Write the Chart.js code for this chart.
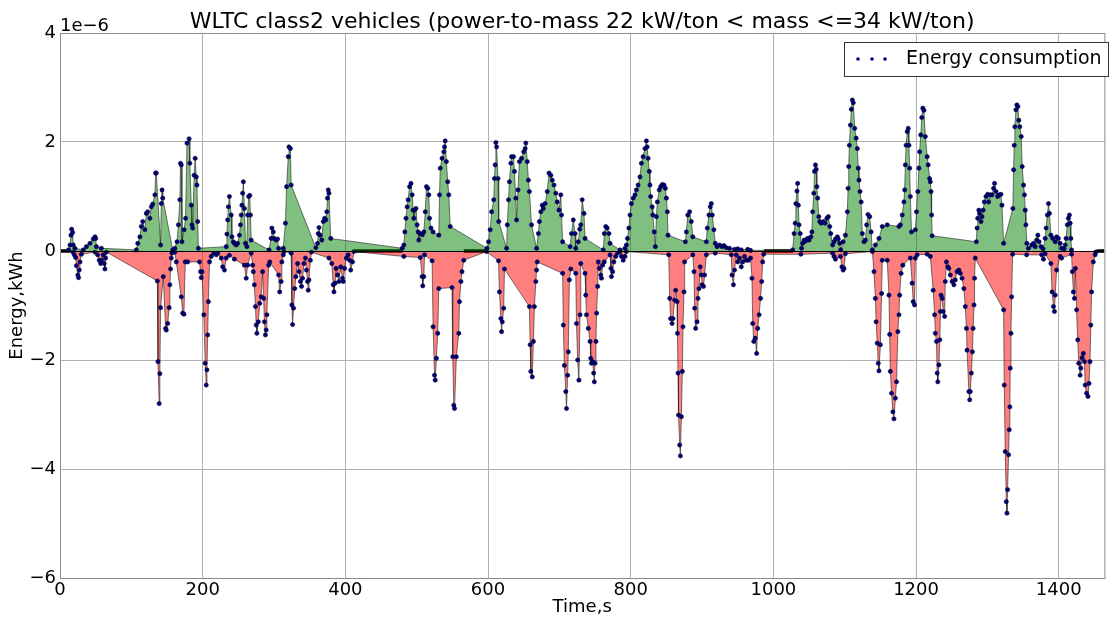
<!DOCTYPE html>
<html>
<head>
<meta charset="utf-8">
<title>WLTC class2 energy</title>
<script src="https://cdn.jsdelivr.net/npm/chart.js@4.4.1/dist/chart.umd.min.js"></script>
<style>
  html, body { margin: 0; padding: 0; background: #fff; }
  #energy-chart { display: block; }
</style>
</head>
<body>
<canvas id="energy-chart" width="1109" height="619"></canvas>
<script>
// values in units of 1e-6 kWh
const posTimes = [12, 14, 15.4, 16.3, 17.7, 18.6, 21, 32.6, 37, 42, 46.6, 49, 50, 51, 58, 107, 109, 112, 114, 116, 119, 121, 123, 126, 128, 130, 133, 134, 135, 141, 142, 143, 144, 158, 161, 164, 166, 168, 169, 170, 171, 174, 176, 178, 181, 182, 184, 185, 186, 188, 189.5, 191, 192, 193, 194, 233, 234, 235, 236, 237.5, 240, 241, 243, 244.5, 247, 249, 251.5, 253, 254, 255, 256, 257, 258.5, 260, 262, 263, 264.5, 266, 267, 268, 293, 296, 297, 299, 300, 303, 305, 306.4, 313, 316, 317.6, 320, 321, 323, 324, 358.6, 361, 362, 363, 364.6, 367, 369, 371, 372.6, 374, 375, 376, 377, 379.5, 479.7, 482, 483.4, 485, 486.6, 488, 490, 492, 493.6, 495, 496, 497, 499, 500.6, 502, 503, 505, 508, 510, 512, 513.7, 515.5, 517, 518, 520, 523, 531, 532, 533, 535.6, 538, 539, 540, 541.6, 543.5, 545, 547, 598.4, 600.7, 603, 605, 608, 609, 610, 611, 612, 614, 615, 626, 627, 628.7, 630, 632, 633, 635.7, 637, 639, 640, 642, 644, 647, 650, 652, 653, 655, 656.6, 658, 661, 668, 670.6, 672, 674, 676, 677.6, 680, 683, 685.5, 688, 690, 692.5, 695, 697, 699.5, 702, 703, 704.6, 715, 717, 719.5, 722, 723, 726.5, 728.5, 730, 732, 734.5, 736, 761.5, 763, 765, 767, 769.5, 771, 785, 792, 794, 795.5, 797.4, 799, 801, 803.5, 806, 808, 810.4, 813, 815, 817.4, 820, 822, 823, 824.4, 826, 827, 828, 830, 831, 833, 834.6, 836, 837.4, 840, 842, 844.4, 846.7, 848.6, 850, 851.4, 852.3, 876.6, 878, 880, 882.6, 885, 887, 906, 907.3, 909.6, 911.5, 913, 914.3, 916.6, 918.5, 921, 924.5, 928, 930.6, 934, 938.5, 945.5, 950, 955, 964, 968, 1027, 1029, 1030.6, 1031.5, 1033, 1034, 1035, 1036, 1037.6, 1039.5, 1041, 1043, 1045, 1047.8, 1050, 1052.5, 1054, 1055, 1056.7, 1057.6, 1059, 1060, 1061, 1062, 1063.7, 1065, 1067, 1070, 1072.5, 1075, 1077, 1079, 1080.4, 1083, 1085, 1087, 1089.7, 1091, 1093, 1094.4, 1097.7, 1101, 1103.7, 1104.7, 1105.6, 1106.5, 1108, 1109.3, 1110.7, 1112, 1114, 1116, 1117.7, 1119, 1120, 1121.4, 1123, 1124.7, 1127, 1129, 1130.7, 1132.6, 1135, 1137, 1138.7, 1143, 1148, 1152.6, 1159.6, 1176, 1178, 1180.6, 1183, 1184, 1185, 1186, 1187.6, 1189, 1190, 1191, 1192, 1193.6, 1199, 1200.6, 1202.5, 1204, 1205, 1206.6, 1208, 1209.5, 1211, 1213, 1215.6, 1217, 1219, 1220, 1221, 1221.8, 1222.6, 1284.5, 1285.5, 1286.4, 1288, 1289, 1291, 1292.4, 1294, 1295.7, 1298, 1300.4, 1301.7, 1304, 1306.4, 1308.7, 1310, 1312, 1314.3, 1316.6, 1319, 1320.4, 1322.7, 1335.7, 1336.7, 1337.6, 1338.5, 1340, 1341.3, 1342.7, 1344, 1345.5, 1347.4, 1348.8, 1350.7, 1352, 1353, 1354, 1355.3, 1357.6, 1362, 1364.6, 1367, 1369, 1370.7, 1372.5, 1375.3, 1378, 1381, 1382.3, 1384, 1385.6, 1387, 1389, 1391.6, 1395, 1397, 1399.5, 1402, 1404, 1407.5, 1409, 1410.3, 1412, 1413.5, 1415, 1416, 1417, 1418];
const posValues = [0.02, 0.11, 0.29, 0.40, 0.34, 0.11, 0.05, 0.02, 0.08, 0.14, 0.22, 0.26, 0.23, 0.08, 0.05, 0.02, 0.14, 0.26, 0.45, 0.54, 0.39, 0.69, 0.72, 0.60, 0.81, 0.86, 1.03, 1.43, 1.43, 0.11, 0.87, 1.12, 0.97, 0.02, 0.05, 0.17, 0.48, 0.94, 1.61, 1.58, 0.17, 0.39, 0.60, 1.98, 2.06, 1.61, 0.84, 0.48, 0.42, 1.39, 1.70, 1.36, 1.21, 0.54, 0.05, 0.08, 0.31, 0.57, 0.81, 1.00, 0.66, 0.26, 0.17, 0.14, 0.11, 0.14, 0.29, 0.48, 0.66, 0.84, 1.06, 1.27, 0.78, 0.14, 0.08, 0.66, 1.00, 1.02, 0.66, 0.20, 0.02, 0.23, 0.42, 0.35, 0.23, 0.20, 0.22, 0.05, 0.05, 0.51, 1.18, 1.73, 1.91, 1.88, 1.21, 0.06, 0.14, 0.32, 0.43, 0.29, 0.20, 0.54, 0.60, 0.57, 0.72, 0.97, 1.12, 1.06, 0.23, 0.05, 0.11, 0.35, 0.60, 0.81, 0.94, 1.18, 1.24, 1.03, 0.75, 0.60, 0.75, 0.78, 0.48, 0.35, 0.20, 0.32, 0.30, 0.35, 0.72, 1.18, 1.15, 1.03, 0.60, 0.42, 0.35, 0.29, 1.03, 1.52, 1.70, 1.82, 1.91, 2.02, 1.64, 1.27, 1.03, 0.45, 0.05, 0.17, 0.39, 0.72, 0.94, 1.33, 1.58, 1.99, 1.91, 1.33, 0.54, 0.05, 0.48, 0.94, 1.27, 1.61, 1.73, 1.73, 1.46, 0.97, 0.57, 1.12, 1.64, 1.70, 1.82, 1.88, 1.98, 1.64, 1.30, 1.09, 0.48, 0.05, 0.32, 0.54, 0.72, 0.84, 0.78, 0.87, 1.09, 1.43, 1.39, 1.30, 1.21, 1.06, 0.90, 0.75, 1.03, 0.66, 0.17, 0.08, 0.32, 0.57, 0.32, 0.05, 0.17, 0.40, 0.48, 0.94, 0.69, 0.23, 0.02, 0.32, 0.45, 0.42, 0.32, 0.14, 0.02, 0.05, 0.11, 0.23, 0.42, 0.66, 0.87, 0.97, 1.03, 1.12, 1.21, 1.36, 1.61, 1.73, 1.88, 2.02, 1.91, 1.70, 1.46, 1.21, 1.00, 0.81, 0.66, 0.35, 0.08, 0.63, 0.90, 1.12, 1.18, 1.22, 1.21, 1.15, 0.97, 0.72, 0.29, 0.17, 0.35, 0.66, 0.72, 0.54, 0.26, 0.17, 0.42, 0.66, 0.81, 0.87, 0.66, 0.39, 0.14, 0.08, 0.11, 0.08, 0.10, 0.06, 0.05, 0.03, 0.04, 0.02, 0.03, 0.01, 0.02, 0.32, 0.51, 0.87, 1.10, 1.24, 0.84, 0.48, 0.32, 0.05, 0.14, 0.20, 0.18, 0.23, 0.20, 0.26, 0.35, 0.72, 1.06, 1.46, 1.58, 1.50, 1.18, 0.97, 0.63, 0.54, 0.51, 0.54, 0.51, 0.60, 0.63, 0.45, 0.32, 0.11, 0.17, 0.22, 0.26, 0.22, 0.14, 0.02, 0.17, 0.29, 0.72, 1.15, 1.55, 1.94, 2.31, 2.60, 2.77, 2.72, 2.25, 2.07, 1.88, 1.52, 1.30, 1.09, 0.90, 0.32, 0.17, 0.20, 0.48, 0.67, 0.63, 0.35, 0.02, 0.11, 0.23, 0.45, 0.48, 0.45, 0.48, 0.66, 0.90, 1.12, 1.58, 1.94, 2.19, 2.25, 1.94, 1.52, 1.00, 0.35, 0.39, 0.72, 1.09, 1.52, 1.82, 2.13, 2.45, 2.62, 2.58, 2.10, 1.73, 1.58, 1.33, 1.27, 1.09, 0.66, 0.28, 0.17, 0.42, 0.60, 0.75, 0.69, 0.54, 0.63, 0.75, 0.90, 1.00, 1.04, 0.90, 1.03, 1.03, 1.15, 1.24, 1.09, 1.00, 1.03, 1.04, 0.84, 0.14, 0.78, 1.49, 1.94, 2.28, 2.59, 2.68, 2.65, 2.40, 2.28, 2.10, 1.55, 1.21, 1.03, 0.75, 0.48, 0.14, 0.05, 0.11, 0.14, 0.08, 0.20, 0.29, 0.17, 0.08, 0.04, 0.23, 0.42, 0.66, 0.87, 0.69, 0.29, 0.23, 0.17, 0.26, 0.23, 0.14, 0.05, 0.04, 0.11, 0.23, 0.48, 0.60, 0.66, 0.51, 0.23, 0.02];

const negTimes = [18, 20, 22, 23, 25, 26, 27, 28, 30, 49, 52.6, 55, 57, 58, 60.5, 62, 63, 64, 65, 136.5, 137.3, 139, 140, 141, 144.8, 148, 149, 151, 153, 154, 155, 156, 157, 161, 163, 170, 172, 173.7, 175.6, 179, 195.6, 197, 198, 199, 201.6, 203.5, 205, 206, 207, 208, 209.6, 212, 215.6, 219, 221, 226, 228, 230.5, 233, 237.5, 244.5, 258.5, 261, 263, 268, 270, 271, 272.4, 274, 275, 276, 278, 280, 282, 284, 285.5, 286.5, 288, 289, 290, 292.5, 294, 306.4, 308, 310, 311, 313, 314, 324, 325, 326, 327.4, 329, 330.6, 333, 335, 337, 338.6, 340, 342, 344, 345.5, 347, 348, 349, 351, 352.5, 377, 381, 383, 384, 385.6, 387, 389, 391, 393.5, 396, 397, 399, 401.4, 404, 406, 407.5, 410, 412, 482, 505, 507.6, 508.5, 510, 511, 521.6, 523, 525, 526, 527.6, 529.5, 531, 549.5, 550.5, 552, 553, 555.6, 559, 560, 562, 563.5, 566, 598, 614.7, 616, 618, 619, 620, 622, 623, 658, 659, 660, 662, 663.6, 665, 667, 668, 669, 704.6, 705.5, 707, 709, 710, 711.6, 712.5, 714, 716, 723, 724, 725.6, 727.4, 729, 730, 736, 737, 738, 740.6, 743, 744, 745, 746.6, 748, 749, 750, 751.3, 752.2, 753.6, 754.5, 756, 758, 759, 760.6, 763, 771, 772.3, 773, 774.6, 776.4, 779, 781.6, 785, 787, 789.5, 792, 794, 853.3, 854.7, 856, 858, 859.3, 861.6, 863, 865, 865.5, 866.3, 867, 868.6, 869.6, 871, 872.4, 873.3, 874.7, 875.6, 887, 888.7, 889.6, 891, 893, 894.3, 895.7, 897.5, 899, 900, 902, 903.6, 906, 918.5, 941, 942, 944, 945.5, 948, 950, 952.5, 955, 957, 959.5, 962, 965, 968, 970, 971, 972.5, 974.5, 976.5, 978, 980, 982, 983.6, 985, 986.4, 1038.5, 1083, 1085, 1087, 1094, 1096, 1097.7, 1099, 1101, 1138.7, 1141, 1143, 1144, 1145.6, 1147, 1148, 1150, 1151.7, 1152.6, 1159.6, 1162, 1163, 1164, 1165.6, 1167.5, 1169, 1171, 1172.6, 1174.5, 1176, 1177, 1179, 1181.5, 1192, 1194.5, 1196, 1197.8, 1199, 1201.5, 1215.6, 1220, 1224, 1226, 1227, 1228.6, 1229.6, 1230.5, 1232, 1233.3, 1234.2, 1235, 1236.6, 1238, 1240, 1241, 1242.6, 1244.5, 1246, 1248, 1250.5, 1253, 1255, 1257.5, 1260, 1262, 1264.5, 1267, 1269, 1270.6, 1271.5, 1274, 1275.2, 1276, 1277.5, 1279, 1280, 1281.3, 1282, 1283, 1322.7, 1323.6, 1325, 1326.5, 1327.4, 1328.3, 1329.7, 1330.6, 1331.5, 1332, 1333, 1334, 1335.3, 1355, 1376, 1378.6, 1381, 1389, 1390.7, 1392.6, 1394, 1395, 1397, 1402, 1404, 1418, 1419, 1420.5, 1422, 1423.3, 1425, 1426.6, 1428, 1430, 1431, 1432.6, 1434.5, 1436, 1437, 1439, 1441, 1442.4, 1443.8, 1445, 1446, 1448.5, 1451, 1452];
const negValues = [-0.02, -0.07, -0.12, -0.27, -0.44, -0.49, -0.35, -0.20, -0.06, -0.02, -0.07, -0.17, -0.23, -0.17, -0.07, -0.23, -0.33, -0.13, -0.02, -0.55, -2.03, -2.80, -2.25, -1.04, -0.47, -1.42, -1.45, -1.33, -1.04, -0.62, -0.33, -0.13, -0.04, -0.02, -0.20, -0.84, -1.14, -1.16, -0.20, -0.20, -0.20, -0.38, -0.49, -0.38, -1.17, -2.06, -2.46, -2.18, -1.54, -0.93, -0.20, -0.10, -0.04, -0.07, -0.04, -0.13, -0.29, -0.35, -0.13, -0.08, -0.15, -0.26, -0.50, -0.26, -0.04, -0.26, -0.38, -0.62, -1.02, -1.36, -1.51, -1.30, -0.96, -0.84, -0.38, -0.87, -1.30, -1.54, -1.45, -1.17, -0.26, -0.20, -0.44, -0.75, -0.56, -0.20, -0.07, -0.01, -0.04, -0.99, -1.35, -1.05, -0.69, -0.47, -0.23, -0.38, -0.56, -0.65, -0.50, -0.23, -0.13, -0.35, -0.56, -0.72, -0.53, -0.17, -0.02, -0.13, -0.23, -0.62, -0.75, -0.59, -0.32, -0.44, -0.56, -0.29, -0.50, -0.56, -0.32, -0.13, -0.07, -0.17, -0.35, -0.20, -0.01, -0.10, -0.12, -0.47, -0.64, -0.47, -0.07, -0.18, -1.39, -2.28, -2.37, -1.97, -1.51, -0.69, -0.67, -1.94, -2.83, -2.89, -1.94, -1.51, -0.93, -0.56, -0.38, -0.17, -0.01, -0.18, -0.75, -1.24, -1.48, -1.30, -1.05, -0.33, -1.02, -1.72, -2.21, -2.31, -1.66, -1.02, -0.56, -0.35, -0.20, -0.41, -1.36, -2.10, -2.58, -2.89, -2.28, -1.85, -0.53, -0.33, -0.41, -1.33, -2.00, -2.37, -1.17, -0.23, -0.41, -0.81, -1.17, -1.42, -1.66, -1.97, -2.06, -2.03, -2.24, -2.40, -2.06, -1.66, -1.14, -0.65, -0.20, -0.32, -0.44, -0.50, -0.26, -0.20, -0.07, -0.32, -0.47, -0.38, -0.20, -0.10, -0.04, -0.01, -0.10, -0.17, -0.10, -0.01, -0.07, -0.87, -1.24, -1.33, -1.24, -0.90, -0.72, -0.93, -1.51, -2.24, -3.01, -3.56, -3.76, -3.04, -2.21, -1.39, -0.75, -0.20, -0.07, -0.38, -1.05, -1.42, -1.30, -0.87, -0.69, -0.29, -0.44, -0.62, -0.65, -0.44, -0.07, -0.04, -0.07, -0.44, -0.62, -0.35, -0.07, -0.20, -0.13, -0.29, -0.20, -0.10, -0.17, -0.17, -0.13, -0.50, -1.33, -1.66, -1.60, -1.88, -1.42, -1.17, -0.87, -0.56, -0.20, -0.06, -0.06, -0.04, -0.10, -0.15, -0.10, -0.29, -0.35, -0.32, -0.05, -0.01, -0.38, -0.87, -1.30, -1.69, -2.06, -2.20, -1.72, -0.78, -0.17, -0.17, -0.81, -1.53, -2.21, -2.61, -2.95, -3.08, -2.70, -2.40, -1.48, -1.17, -0.81, -0.41, -0.26, -0.13, -0.59, -0.93, -0.99, -0.13, -0.07, -0.06, -0.10, -0.72, -1.17, -1.51, -1.66, -2.24, -2.40, -2.09, -1.63, -1.11, -0.81, -0.87, -1.11, -1.20, -0.56, -0.20, -0.29, -0.32, -0.44, -0.56, -0.62, -0.53, -0.38, -0.35, -0.41, -0.50, -0.69, -1.02, -1.42, -1.82, -2.58, -2.73, -2.58, -2.24, -1.85, -1.42, -0.99, -0.50, -0.13, -1.08, -2.46, -3.68, -4.60, -4.81, -4.38, -3.74, -3.28, -2.86, -2.15, -1.51, -0.84, -0.06, -0.07, -0.07, -0.15, -0.05, -0.23, -0.75, -1.02, -1.11, -0.81, -0.35, -0.10, -0.13, -0.06, -0.38, -0.75, -0.87, -0.32, -1.08, -1.63, -2.06, -2.28, -2.15, -1.96, -1.88, -2.03, -2.46, -2.61, -2.67, -2.43, -2.03, -1.36, -0.75, -0.20, -0.07, -0.02];

// stretches where the consumption sits at zero (dense dots on the axis)
const zeroStart = [0, 412, 566, 987, 1453];
const zeroEnd = [14, 480, 598, 1027, 1464];

const xTickStep = 200;
const yTickStep = 2;

const FONT = "'DejaVu Sans', 'Liberation Sans', sans-serif";

function toPoints(times, values) {
  return times.map((t, i) => ({ x: t, y: values[i] }));
}

function zeroRuns() {
  const pts = [];
  zeroStart.forEach((s, i) => {
    pts.push({ x: s, y: 0 }, { x: zeroEnd[i], y: 0 }, { x: zeroEnd[i] + 0.1, y: null });
  });
  return pts;
}

// frame, zero line, offset label and the legend box
const decorations = {
  id: 'decorations',
  afterDatasetsDraw(chart) {
    const { ctx, chartArea: a, scales } = chart;
    const y0 = Math.round(scales.y.getPixelForValue(0)) + 0.5;
    ctx.save();
    ctx.strokeStyle = '#000';
    ctx.lineWidth = 1;
    ctx.beginPath();
    ctx.moveTo(a.left, y0);
    ctx.lineTo(a.right, y0);
    ctx.stroke();
    ctx.restore();
  },
  afterDraw(chart) {
    const { ctx, chartArea: a } = chart;
    ctx.save();
    ctx.strokeStyle = '#8c8c8c';
    ctx.lineWidth = 1;
    ctx.strokeRect(a.left + 0.5, a.top + 0.5, a.right - a.left, a.bottom - a.top);

    ctx.fillStyle = '#000';
    ctx.font = '18px ' + FONT;
    ctx.textAlign = 'left';
    ctx.textBaseline = 'alphabetic';
    ctx.fillText('1e\u22126', a.left, a.top - 2);

    // legend
    const lx = 844, ly = 42, lw = 264, lh = 34;
    ctx.fillStyle = '#fff';
    ctx.fillRect(lx, ly, lw, lh);
    ctx.strokeStyle = '#333';
    ctx.strokeRect(lx + 0.5, ly + 0.5, lw, lh);
    ctx.fillStyle = '#00007f';
    [858, 872, 885].forEach(cx => {
      ctx.beginPath();
      ctx.arc(cx, ly + 17, 1.8, 0, Math.PI * 2);
      ctx.fill();
    });
    ctx.fillStyle = '#000';
    ctx.font = '19px ' + FONT;
    ctx.textBaseline = 'middle';
    ctx.fillText('Energy consumption', 906, ly + 17);
    ctx.restore();
  }
};

const pointStyle = {
  pointRadius: 2.1,
  pointBackgroundColor: '#000080',
  pointBorderColor: '#00002a',
  pointBorderWidth: 0.6,
  borderWidth: 0.8,
  tension: 0
};

new Chart(document.getElementById('energy-chart'), {
  type: 'line',
  data: {
    datasets: [
      {
        label: 'Energy consumption',
        data: toPoints(posTimes, posValues),
        borderColor: 'rgba(30,30,30,0.75)',
        backgroundColor: 'rgba(0,128,0,0.5)',
        fill: 'origin',
        ...pointStyle
      },
      {
        label: 'Energy recovery',
        data: toPoints(negTimes, negValues),
        borderColor: 'rgba(30,30,30,0.75)',
        backgroundColor: 'rgba(255,0,0,0.5)',
        fill: 'origin',
        ...pointStyle
      },
      {
        label: 'zero',
        data: zeroRuns(),
        borderColor: '#000',
        borderWidth: 3.5,
        pointRadius: 0,
        fill: false,
        spanGaps: false
      }
    ]
  },
  options: {
    responsive: false,
    animation: false,
    devicePixelRatio: 1,
    layout: { padding: { top: 0, right: 1, left: 0, bottom: 0 } },
    plugins: {
      legend: { display: false },
      tooltip: { enabled: false },
      title: {
        display: true,
        fullSize: false,
        text: 'WLTC class2 vehicles (power-to-mass 22 kW/ton < mass <=34 kW/ton)',
        color: '#000',
        font: { family: FONT, size: 22, weight: 'normal', lineHeight: 1.0 },
        padding: { top: 11, bottom: 0 }
      }
    },
    scales: {
      x: {
        type: 'linear',
        min: 0,
        max: 1464,
        afterFit: s => { s.height = 41; },
        ticks: {
          stepSize: xTickStep,
          includeBounds: false,
          color: '#000',
          padding: 2,
          maxRotation: 0,
          font: { family: FONT, size: 18 },
          callback: v => String(v)
        },
        grid: { color: '#b0b0b0', lineWidth: 1, drawTicks: false },
        border: { display: false },
        title: {
          display: true,
          text: 'Time,s',
          color: '#000',
          font: { family: FONT, size: 18 },
          padding: { top: 0, bottom: 1 }
        }
      },
      y: {
        min: -6,
        max: 4,
        afterFit: s => { s.width = 60; },
        ticks: {
          stepSize: yTickStep,
          color: '#000',
          padding: 4,
          font: { family: FONT, size: 18 },
          callback: v => (v < 0 ? '\u2212' + Math.abs(v) : String(v))
        },
        grid: { color: '#b0b0b0', lineWidth: 1, drawTicks: false },
        border: { display: false },
        title: {
          display: true,
          text: 'Energy,kWh',
          color: '#000',
          font: { family: FONT, size: 18 },
          padding: { top: 7, bottom: 0 }
        }
      }
    }
  },
  plugins: [decorations]
});
</script>
</body>
</html>
